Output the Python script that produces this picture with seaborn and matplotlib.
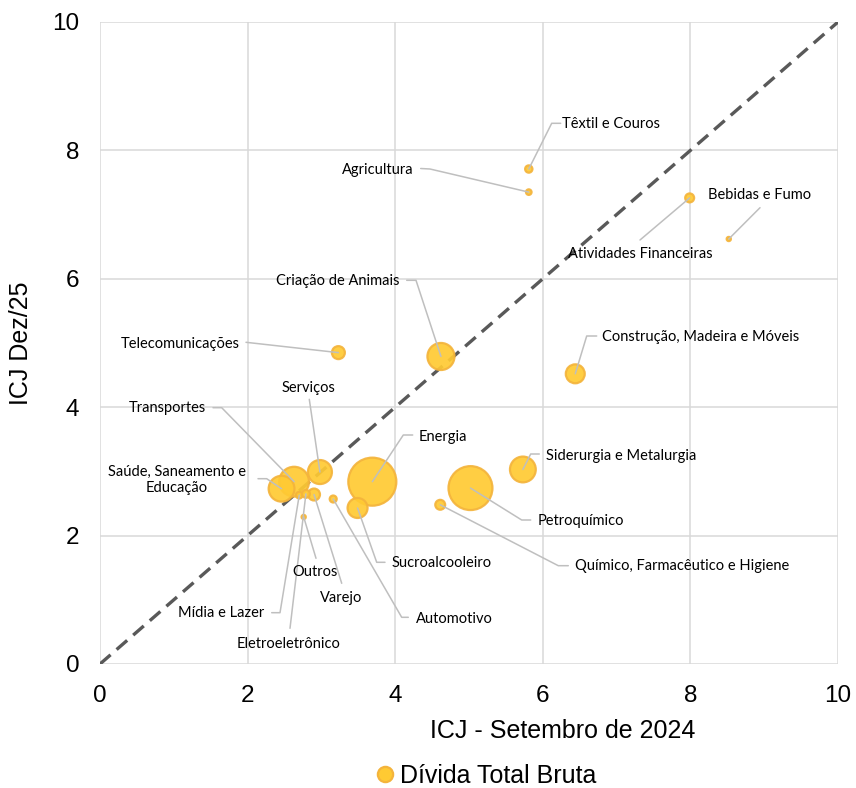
import numpy as np
import matplotlib
matplotlib.use("Agg")
import matplotlib.pyplot as plt
import pandas as pd
import seaborn as sns
from matplotlib.lines import Line2D

sns.set_style("white")
plt.rcParams['font.family'] = ['Liberation Sans', 'DejaVu Sans']
plt.rcParams['text.color'] = 'black'
plt.rcParams['axes.labelcolor'] = 'black'
plt.rcParams['xtick.color'] = 'black'
plt.rcParams['ytick.color'] = 'black'

# ICJ por setor: Setembro/2024 (x) vs Dez/25 (y), bolha = divida total bruta
setores = ['Têxtil e Couros', 'Agricultura', 'Bebidas e Fumo', 'Atividades Financeiras',
           'Criação de Animais', 'Telecomunicações', 'Construção, Madeira e Móveis',
           'Serviços', 'Transportes', 'Saúde, Saneamento e\nEducação', 'Energia',
           'Siderurgia e Metalurgia', 'Petroquímico', 'Químico, Farmacêutico e Higiene',
           'Sucroalcooleiro', 'Automotivo', 'Varejo', 'Outros', 'Mídia e Lazer',
           'Eletroeletrônico']
icj_set24 = [5.81, 5.81, 8.52, 7.99, 4.62, 3.23, 6.44, 2.98, 2.63, 2.46, 3.69,
             5.73, 5.02, 4.61, 3.49, 3.16, 2.90, 2.76, 2.70, 2.79]
icj_dez25 = [7.71, 7.35, 6.62, 7.26, 4.79, 4.85, 4.52, 2.99, 2.84, 2.73, 2.84,
             3.03, 2.74, 2.48, 2.43, 2.57, 2.64, 2.29, 2.63, 2.65]
divida = [12, 7, 4, 18, 165, 38, 81, 130, 200, 150, 520,
          150, 435, 22, 90, 11, 32, 4, 10, 14]
diag = [0, 10]

df = pd.DataFrame({'setor': setores, 'x': icj_set24, 'y': icj_dez25, 'divida': divida})

FILL = '#FFCA33'
EDGE = '#F4B43C'

fig = plt.figure(figsize=(8.56, 7.88), dpi=100)
ax = fig.add_axes([100 / 856, 1 - 664 / 788, 738 / 856, 642 / 788])

# linha de 45 graus
ax.plot(diag, diag, color='#595959', lw=2.4, dashes=(4.2, 2.4), zorder=2)

scale = 2.3
sns.scatterplot(data=df, x='x', y='y', size='divida', sizes=(4 * scale, 520 * scale),
                size_norm=(4, 520), color=FILL, edgecolor=EDGE, linewidth=1.6,
                alpha=0.92, legend=False, ax=ax, zorder=3)

# layout dos rotulos em pixels da imagem: texto, ancoragem, cotovelo
def to_data(px, py):
    return (px - 100) / 73.8, (664 - py) / 64.2

layout = {
    'Têxtil e Couros': ((562, 124), 'left', (560.7, 123.3), (551.7, 123.3)),
    'Agricultura': ((414, 170), 'right', (420.7, 168.5), (430, 169)),
    'Bebidas e Fumo': ((708, 195), 'left', (760, 207.7), None),
    'Atividades Financeiras': ((640, 254), 'center', (640, 240), None),
    'Criação de Animais': ((400, 281), 'right', (406.7, 280.3), (416, 280.3)),
    'Telecomunicações': ((240, 344), 'right', (246, 342.3), None),
    'Construção, Madeira e Móveis': ((602, 337), 'left', (596.7, 336), (586.7, 336)),
    'Serviços': ((308, 388), 'center', (309.3, 399.3), None),
    'Transportes': ((206, 408), 'right', (213, 407.7), (221.7, 407.7)),
    'Saúde, Saneamento e\nEducação': ((177, 480), 'center', (258, 478.7), (266.7, 478.7)),
    'Energia': ((419, 437), 'left', (412.7, 435), (403.3, 435)),
    'Siderurgia e Metalurgia': ((546, 456), 'left', (539.3, 454), (530.7, 454)),
    'Petroquímico': ((538, 521), 'left', (530.7, 520), (521.7, 520)),
    'Químico, Farmacêutico e Higiene': ((575, 566), 'left', (568.3, 565.7), (558.3, 565.7)),
    'Sucroalcooleiro': ((392, 563), 'left', (385, 562.3), (376.7, 562.3)),
    'Automotivo': ((416, 619), 'left', (408.3, 617.3), (401.7, 617.3)),
    'Varejo': ((341, 598), 'center', (341.7, 583.3), None),
    'Outros': ((315, 572), 'center', (316, 558.3), None),
    'Mídia e Lazer': ((264, 613), 'right', (271.7, 612.7), (280, 612.7)),
    'Eletroeletrônico': ((289, 644), 'center', (290, 628.3), None),
}

for nome, xv, yv in zip(setores, icj_set24, icj_dez25):
    (tpx, tpy), ha, attach, elbow = layout[nome]
    tx, ty = to_data(tpx, tpy)
    ax.text(tx, ty, nome, ha=ha, va='center', multialignment='center',
            fontsize=10.5, family=['Lato', 'DejaVu Sans'], color='black', zorder=5)
    pts = [to_data(*attach)]
    if elbow is not None:
        pts.append(to_data(*elbow))
    pts.append((xv, yv))
    lx, ly = zip(*pts)
    ax.plot(lx, ly, color='#BFBFBF', lw=1.1, zorder=4)

ax.set_xlim(0, 10)
ax.set_ylim(0, 10)
ax.set_xticks(range(0, 11, 2))
ax.set_yticks(range(0, 11, 2))
ax.tick_params(axis='both', length=0, labelsize=17.5, pad=15)
ax.grid(True, color='#D9D9D9', lw=1.1)
ax.set_axisbelow(True)
for s in ax.spines.values():
    s.set_visible(False)

ax.set_xlabel('ICJ - Setembro de 2024', fontsize=18)
ax.xaxis.set_label_coords((563 - 100) / 738, (664 - 719) / 642)
ax.set_ylabel('ICJ Dez/25', fontsize=18, labelpad=14)

handle = Line2D([0], [0], marker='o', ls='none', markersize=11, markerfacecolor=FILL,
                markeredgecolor=EDGE, markeredgewidth=1.6, label='Dívida Total Bruta')
fig.legend(handles=[handle], loc='center', bbox_to_anchor=(486 / 856, 1 - 776 / 788),
           frameon=False, fontsize=18, handlelength=0.8, handletextpad=0.2,
           borderaxespad=0, borderpad=0)

fig.savefig('out.png', dpi=100)
